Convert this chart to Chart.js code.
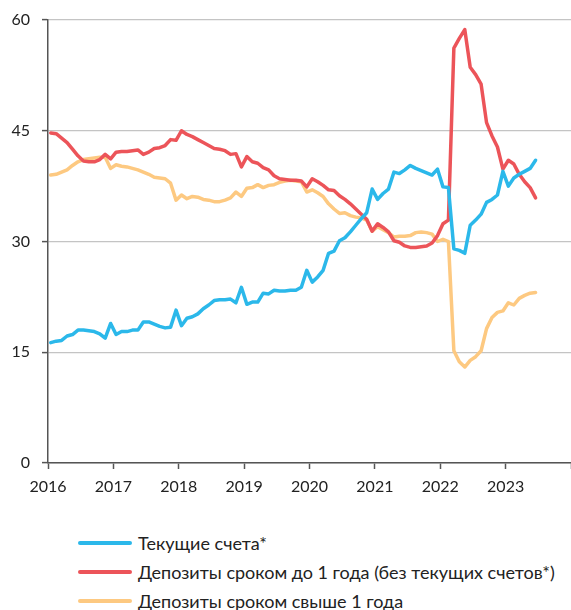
<!DOCTYPE html>
<html>
<head>
<meta charset="utf-8">
<script src="https://cdn.jsdelivr.net/npm/chart.js@4/dist/chart.umd.min.js"></script>
<style>
  html, body { margin: 0; padding: 0; background: #fff; }
  #wrap { position: relative; width: 571px; height: 610px; overflow: hidden; }
  #chartBox { position: absolute; left: 0; top: 0; width: 571px; height: 505px; }
  #legend { position: absolute; left: 78px; top: 528px; font-family: Lato, "Open Sans", sans-serif; font-size: 18px; color: #222; }
  .row { display: flex; align-items: center; height: 29px; }
  .sw { width: 54px; height: 4px; border-radius: 2px; margin-right: 6px; }
</style>
</head>
<body>
<div id="wrap">
  <div id="chartBox"><canvas id="c" width="571" height="505"></canvas></div>
  <div id="legend"></div>
</div>
<script>
// Monthly data, Jan 2016 .. Jun 2023 (share, %)
const startYear = 2016;
const seriesNames = [
  "Текущие счета*",
  "Депозиты сроком до 1 года (без текущих счетов*)",
  "Депозиты сроком свыше 1 года"
];
const currentAccounts = [
  16.3, 16.5, 16.6, 17.2, 17.4, 18.0, 18.0, 17.9, 17.8, 17.5,
  16.9, 18.9, 17.4, 17.8, 17.8, 18.0, 18.0, 19.1, 19.1, 18.8,
  18.5, 18.3, 18.4, 20.7, 18.6, 19.6, 19.8, 20.2, 20.9, 21.4,
  22.0, 22.1, 22.1, 22.2, 21.7, 23.8, 21.5, 21.8, 21.8, 23.0,
  22.9, 23.4, 23.3, 23.3, 23.4, 23.4, 23.8, 26.1, 24.5, 25.2,
  26.1, 28.4, 28.7, 30.1, 30.5, 31.3, 32.2, 33.1, 33.9, 37.1,
  35.7, 36.5, 37.1, 39.4, 39.2, 39.7, 40.3, 39.9, 39.6, 39.3,
  39.0, 39.8, 37.4, 37.3, 29.0, 28.8, 28.4, 32.2, 32.9, 33.7,
  35.3, 35.7, 36.3, 39.5, 37.5, 38.6, 39.1, 39.5, 39.9, 41.0
];
const depositsUpTo1y = [
  44.7, 44.6, 44.0, 43.4, 42.5, 41.6, 40.9, 40.8, 40.8, 41.1,
  41.8, 41.2, 42.1, 42.2, 42.2, 42.3, 42.4, 41.8, 42.1, 42.6,
  42.7, 43.0, 43.8, 43.7, 45.0, 44.5, 44.2, 43.8, 43.4, 43.0,
  42.6, 42.5, 42.3, 41.8, 41.9, 40.1, 41.5, 40.8, 40.6, 40.0,
  39.7, 38.9, 38.5, 38.4, 38.3, 38.3, 38.2, 37.4, 38.5, 38.1,
  37.6, 37.0, 36.9, 36.2, 35.7, 35.1, 34.4, 33.7, 33.0, 31.4,
  32.4, 31.9, 31.3, 30.1, 29.9, 29.4, 29.2, 29.2, 29.3, 29.4,
  29.8, 30.8, 32.4, 32.9, 56.2, 57.5, 58.7, 53.6, 52.6, 51.3,
  46.1, 44.3, 42.8, 39.8, 41.0, 40.5, 39.1, 38.1, 37.3, 35.9
];
const depositsOver1y = [
  39.0, 39.1, 39.4, 39.7, 40.3, 40.8, 41.1, 41.2, 41.3, 41.4,
  41.4, 39.9, 40.4, 40.2, 40.1, 39.9, 39.7, 39.4, 39.1, 38.7,
  38.6, 38.5, 37.9, 35.6, 36.3, 35.8, 36.1, 36.0, 35.7, 35.6,
  35.4, 35.4, 35.6, 35.9, 36.7, 36.1, 37.2, 37.3, 37.7, 37.3,
  37.6, 37.7, 38.0, 38.2, 38.3, 38.2, 38.1, 36.7, 37.0, 36.6,
  36.1, 35.1, 34.4, 33.8, 33.9, 33.5, 33.3, 33.2, 32.9, 31.4,
  32.0, 31.6, 31.2, 30.6, 30.7, 30.7, 30.8, 31.2, 31.3, 31.2,
  31.0, 30.0, 30.3, 30.0, 15.2, 13.7, 13.0, 13.9, 14.4, 15.2,
  18.2, 19.7, 20.4, 20.6, 21.7, 21.4, 22.3, 22.7, 23.0, 23.1
];
const yTicks = [0, 15, 30, 45, 60];
const xYears = [2016, 2017, 2018, 2019, 2020, 2021, 2022, 2023];
const colors = ["#2bb8ea", "#ec5459", "#fdc981"];

function toPoints(arr) {
  return arr.map((v, i) => ({ x: startYear + (i + 0.5) / 12, y: v }));
}

const seriesValues = [currentAccounts, depositsUpTo1y, depositsOver1y];
const datasets = seriesValues.map((arr, k) => ({
  label: seriesNames[k],
  data: toPoints(arr),
  borderColor: colors[k],
  backgroundColor: colors[k],
  borderWidth: 3.5,
  pointRadius: 0,
  tension: 0,
  fill: false,
  borderJoinStyle: 'round',
  borderCapStyle: 'round'
}));

const tickFont = { family: "Lato, 'Open Sans', sans-serif", size: 16 };

new Chart(document.getElementById('c'), {
  type: 'line',
  data: { datasets },
  options: {
    responsive: false,
    devicePixelRatio: 1,
    animation: false,
    layout: { padding: { top: 20, right: 0, left: 0, bottom: 0 } },
    plugins: { legend: { display: false }, tooltip: { enabled: false } },
    scales: {
      x: {
        type: 'linear',
        min: 2016,
        max: 2024,
        afterBuildTicks: (scale) => {
          scale.ticks = xYears.concat([2024]).map(v => ({ value: v }));
        },
        afterFit: (scale) => {
          scale.height = 42;
          scale.paddingRight = 0;
          scale.paddingLeft = 0;
        },
        ticks: {
          color: '#222',
          font: tickFont,
          padding: 8,
          maxRotation: 0,
          autoSkip: false,
          callback: (v) => (xYears.includes(v) ? String(v) : '')
        },
        grid: {
          drawOnChartArea: false,
          drawTicks: true,
          tickLength: 6,
          tickColor: '#555',
          tickWidth: 1.5
        },
        border: { display: true, color: '#555', width: 1.5 }
      },
      y: {
        min: 0,
        max: 60,
        afterBuildTicks: (scale) => {
          scale.ticks = yTicks.map(v => ({ value: v }));
        },
        afterFit: (scale) => {
          scale.width = 48;
          scale.paddingTop = 0;
          scale.paddingBottom = 0;
        },
        ticks: {
          color: '#222',
          font: tickFont,
          padding: 12,
          callback: (v) => String(v)
        },
        grid: {
          color: '#c4c4c4',
          lineWidth: 1.2,
          drawTicks: true,
          tickLength: 6,
          tickColor: '#555',
          tickWidth: 1.5
        },
        border: { display: true, color: '#555', width: 1.5 }
      }
    }
  }
});

const legend = document.getElementById('legend');
seriesNames.forEach((name, k) => {
  const row = document.createElement('div');
  row.className = 'row';
  const sw = document.createElement('span');
  sw.className = 'sw';
  sw.style.background = colors[k];
  const t = document.createElement('span');
  t.textContent = name;
  row.appendChild(sw);
  row.appendChild(t);
  legend.appendChild(row);
});
</script>
</body>
</html>
